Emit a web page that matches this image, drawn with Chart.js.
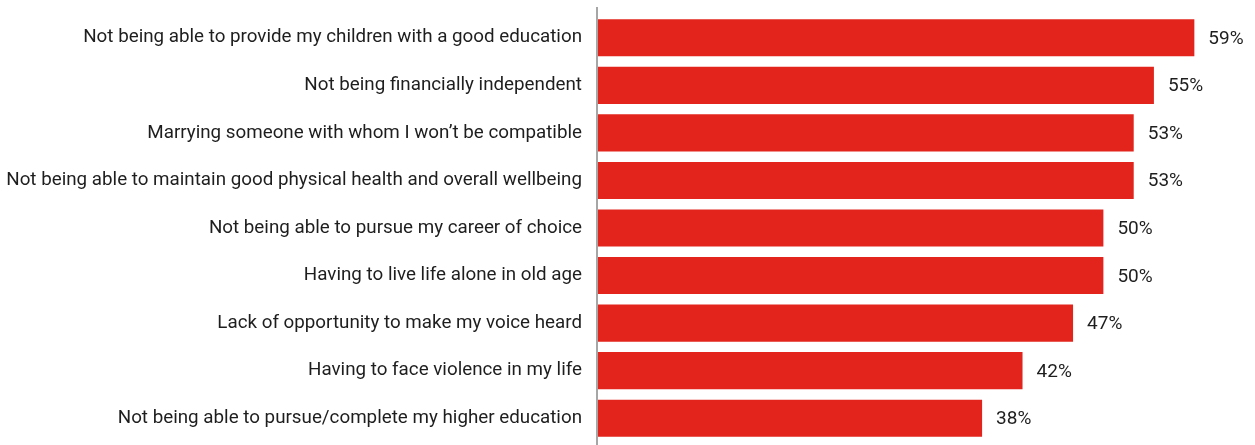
<!DOCTYPE html>
<html>
<head>
<meta charset="utf-8">
<script src="https://cdn.jsdelivr.net/npm/chart.js@4"></script>
<style>
  html, body { margin: 0; padding: 0; background: #fff; }
  #wrap { width: 1255px; height: 445px; position: relative; }
</style>
</head>
<body>
<div id="wrap"><canvas id="fearsChart"></canvas></div>
<script>
const categories = [
    'Not being able to provide my children with a good education',
    'Not being financially independent',
    'Marrying someone with whom I won\u2019t be compatible',
    'Not being able to maintain good physical health and overall wellbeing',
    'Not being able to pursue my career of choice',
    'Having to live life alone in old age',
    'Lack of opportunity to make my voice heard',
    'Having to face violence in my life',
    'Not being able to pursue/complete my higher education'
];
const shares = [59, 55, 53, 53, 50, 50, 47, 42, 38];

const barColor = '#e2241d';
const textColor = '#1e1e1e';
const fontFamily = 'Roboto, "Liberation Sans", sans-serif';

// value labels at the end of each bar + the vertical axis line
const extras = {
    id: 'extras',
    afterDatasetsDraw(chart) {
        const ctx = chart.ctx;
        const area = chart.chartArea;
        ctx.save();
        ctx.strokeStyle = '#a6a6a6';
        ctx.lineWidth = 2;
        ctx.beginPath();
        ctx.moveTo(area.left - 1, 7);
        ctx.lineTo(area.left - 1, chart.height);
        ctx.stroke();

        ctx.fillStyle = textColor;
        ctx.font = '19px ' + fontFamily;
        ctx.textAlign = 'left';
        ctx.textBaseline = 'alphabetic';
        chart.getDatasetMeta(0).data.forEach((bar, i) => {
            ctx.fillText(shares[i] + '%', bar.x + 14, bar.y + 6);
        });
        ctx.restore();
    }
};

new Chart(document.getElementById('fearsChart'), {
    type: 'bar',
    data: {
        labels: categories,
        datasets: [{
            data: shares,
            backgroundColor: barColor,
            barPercentage: 0.78,
            categoryPercentage: 1
        }]
    },
    options: {
        indexAxis: 'y',
        responsive: true,
        maintainAspectRatio: false,
        animation: false,
        layout: { padding: { top: 14, bottom: 3, left: 0, right: 0 } },
        plugins: {
            legend: { display: false },
            tooltip: { enabled: false }
        },
        scales: {
            x: {
                display: false,
                min: 0,
                max: 65
            },
            y: {
                afterFit(scale) {
                    scale.width = 598;
                    // no extra room above/below for the tick labels
                    scale.paddingTop = 0;
                    scale.paddingBottom = 0;
                },
                grid: { display: false, drawTicks: false },
                border: { display: false },
                ticks: {
                    padding: 16,
                    color: textColor,
                    font: { family: fontFamily, size: 18.8 }
                }
            }
        }
    },
    plugins: [extras]
});
</script>
</body>
</html>
